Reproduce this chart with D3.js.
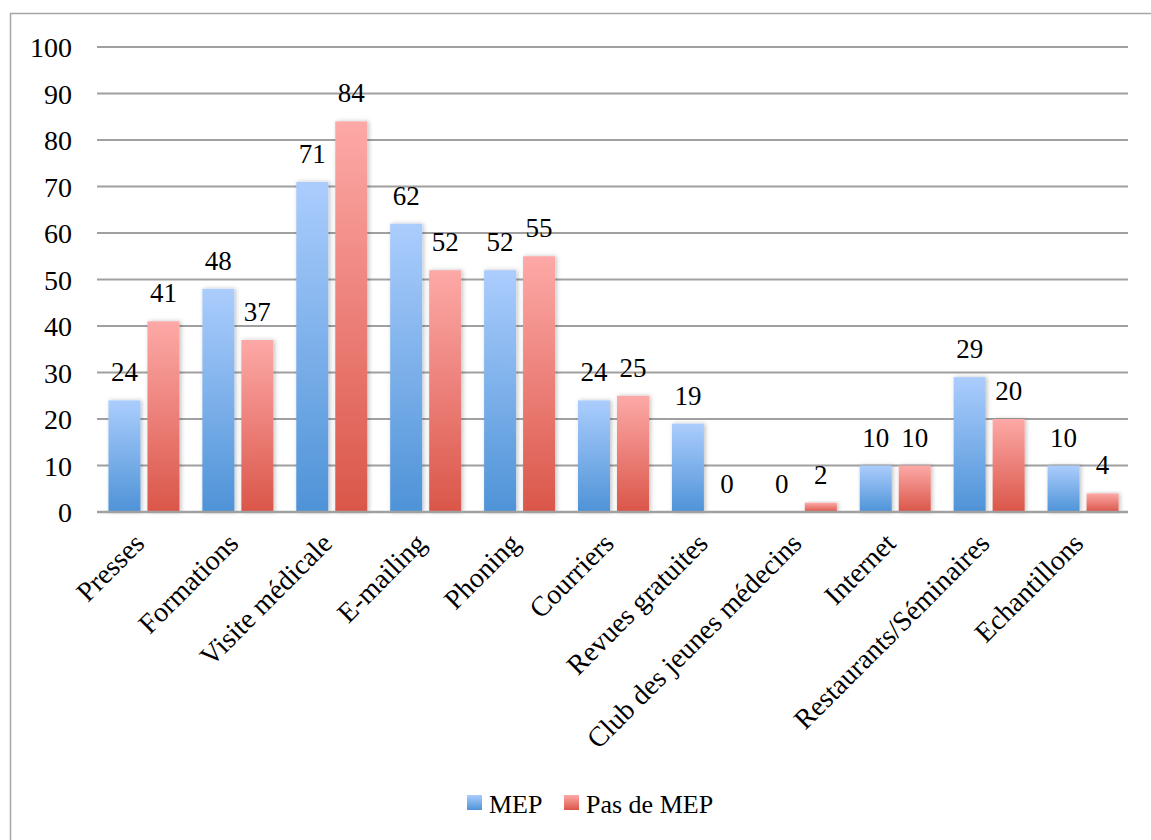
<!DOCTYPE html>
<html>
<head>
<meta charset="utf-8">
<script src="https://cdn.jsdelivr.net/npm/d3@7"></script>
<style>
  body { margin: 0; background: #fff; }
  text { font-family: "Liberation Serif", serif; fill: #000; }
</style>
</head>
<body>
<script>
let categories = [
    'Presses','Formations','Visite médicale','E-mailing','Phoning','Courriers',
    'Revues gratuites','Club des jeunes médecins','Internet','Restaurants/Séminaires','Echantillons'];
let mepValues = [24,48,71,62,52,24,19,0,10,29,10];
let pasMepValues = [41,37,84,52,55,25,0,2,10,20,4];
let seriesNames = ['MEP','Pas de MEP'];
let yTicks = [0,10,20,30,40,50,60,70,80,90,100];

let width = 1151,
    height = 840;

let margin = {
    left:97,
    right:21,
    top:47,
    bottom:328
}

let barWidth = 32,
    barGap = 7;

let svg = d3.select("body")
    .append("svg")
    .attr("width", width)
    .attr("height", height);

let defs = svg.append("defs");

let gradients = [
    {id:"gBlue", top:"#abcdfd", bottom:"#4e93d7"},
    {id:"gRed", top:"#fda9a7", bottom:"#da5649"}
];
gradients.forEach(g => {
    let lg = defs.append("linearGradient")
        .attr("id", g.id)
        .attr("x1",0).attr("y1",0).attr("x2",0).attr("y2",1);
    lg.append("stop").attr("offset","0%").attr("stop-color", g.top);
    lg.append("stop").attr("offset","100%").attr("stop-color", g.bottom);
});

let shadow = defs.append("filter")
    .attr("id","shadow")
    .attr("x","-30%").attr("y","-10%")
    .attr("width","160%").attr("height","120%");
shadow.append("feDropShadow")
    .attr("dx",1.5).attr("dy",0)
    .attr("stdDeviation",2)
    .attr("flood-color","#000")
    .attr("flood-opacity",0.25);

// frame
svg.append("rect")
    .attr("x",10.5).attr("y",13.5)
    .attr("width",1160).attr("height",860)
    .attr("fill","none")
    .attr("stroke","#a6a6a6")
    .attr("stroke-width",1.5);

let y = d3.scaleLinear()
    .domain([0,100])
    .range([height - margin.bottom, margin.top]);

let x = d3.scaleBand()
    .domain(categories)
    .range([margin.left, width - margin.right])
    .padding(0);

// grid
let grid = svg.append("g").attr("class","grid");
grid.selectAll("line")
    .data(yTicks)
    .enter()
    .append("line")
    .attr("x1", margin.left)
    .attr("x2", width - margin.right - 2)
    .attr("y1", d => y(d))
    .attr("y2", d => y(d))
    .attr("stroke","#a0a0a0")
    .attr("stroke-width",2);

let yAxis = d3.axisLeft(y).tickValues(yTicks).tickSize(0).tickPadding(25);
let yg = svg.append("g")
    .attr("transform",`translate(${margin.left},0)`)
    .call(yAxis);
yg.select(".domain").remove();
yg.selectAll("text")
    .style("font-size","28px")
    .attr("dy","0.35em")
    .attr("font-family","Liberation Serif");

let series = [
    {name:seriesNames[0], values:mepValues, fill:"url(#gBlue)", offset:-(barGap/2 + barWidth)},
    {name:seriesNames[1], values:pasMepValues, fill:"url(#gRed)", offset:barGap/2}
];

let center = d => x(d) + x.bandwidth()/2;

series.forEach(s => {
    let g = svg.append("g");
    g.selectAll("rect")
        .data(categories)
        .enter()
        .append("rect")
        .attr("x", (d) => center(d) + s.offset)
        .attr("y", (d,i) => y(s.values[i]))
        .attr("width", barWidth)
        .attr("height", (d,i) => y(0) - y(s.values[i]))
        .attr("fill", s.fill)
        .attr("filter","url(#shadow)");
    g.selectAll("text")
        .data(categories)
        .enter()
        .append("text")
        .attr("x", (d) => center(d) + s.offset + barWidth/2)
        .attr("y", (d,i) => y(s.values[i]) - 19)
        .attr("text-anchor","middle")
        .style("font-size","27px")
        .text((d,i) => s.values[i]);
});

// baseline on top
svg.append("line")
    .attr("x1", margin.left)
    .attr("x2", width - margin.right - 2)
    .attr("y1", y(0))
    .attr("y2", y(0))
    .attr("stroke","#a0a0a0")
    .attr("stroke-width",2.5);

// category labels
let xAxis = d3.axisBottom(x).tickSize(0).tickPadding(0);
let xg = svg.append("g")
    .attr("transform",`translate(0,${y(0)})`)
    .call(xAxis);
xg.select(".domain").remove();
xg.selectAll("text")
    .attr("font-family","Liberation Serif")
    .style("font-size","28px")
    .attr("text-anchor","end")
    .attr("dy","0")
    .attr("y",0)
    .attr("transform","translate(2,33) rotate(-45)");

// legend
let legendX = [467, 564];
let legend = svg.append("g");
series.forEach((s,i) => {
    legend.append("rect")
        .attr("x", legendX[i]).attr("y", 795)
        .attr("width",15).attr("height",15)
        .attr("fill", s.fill);
    legend.append("text")
        .attr("x", legendX[i] + 22).attr("y", 813)
        .style("font-size","26px")
        .text(s.name);
});
</script>
</body>
</html>
